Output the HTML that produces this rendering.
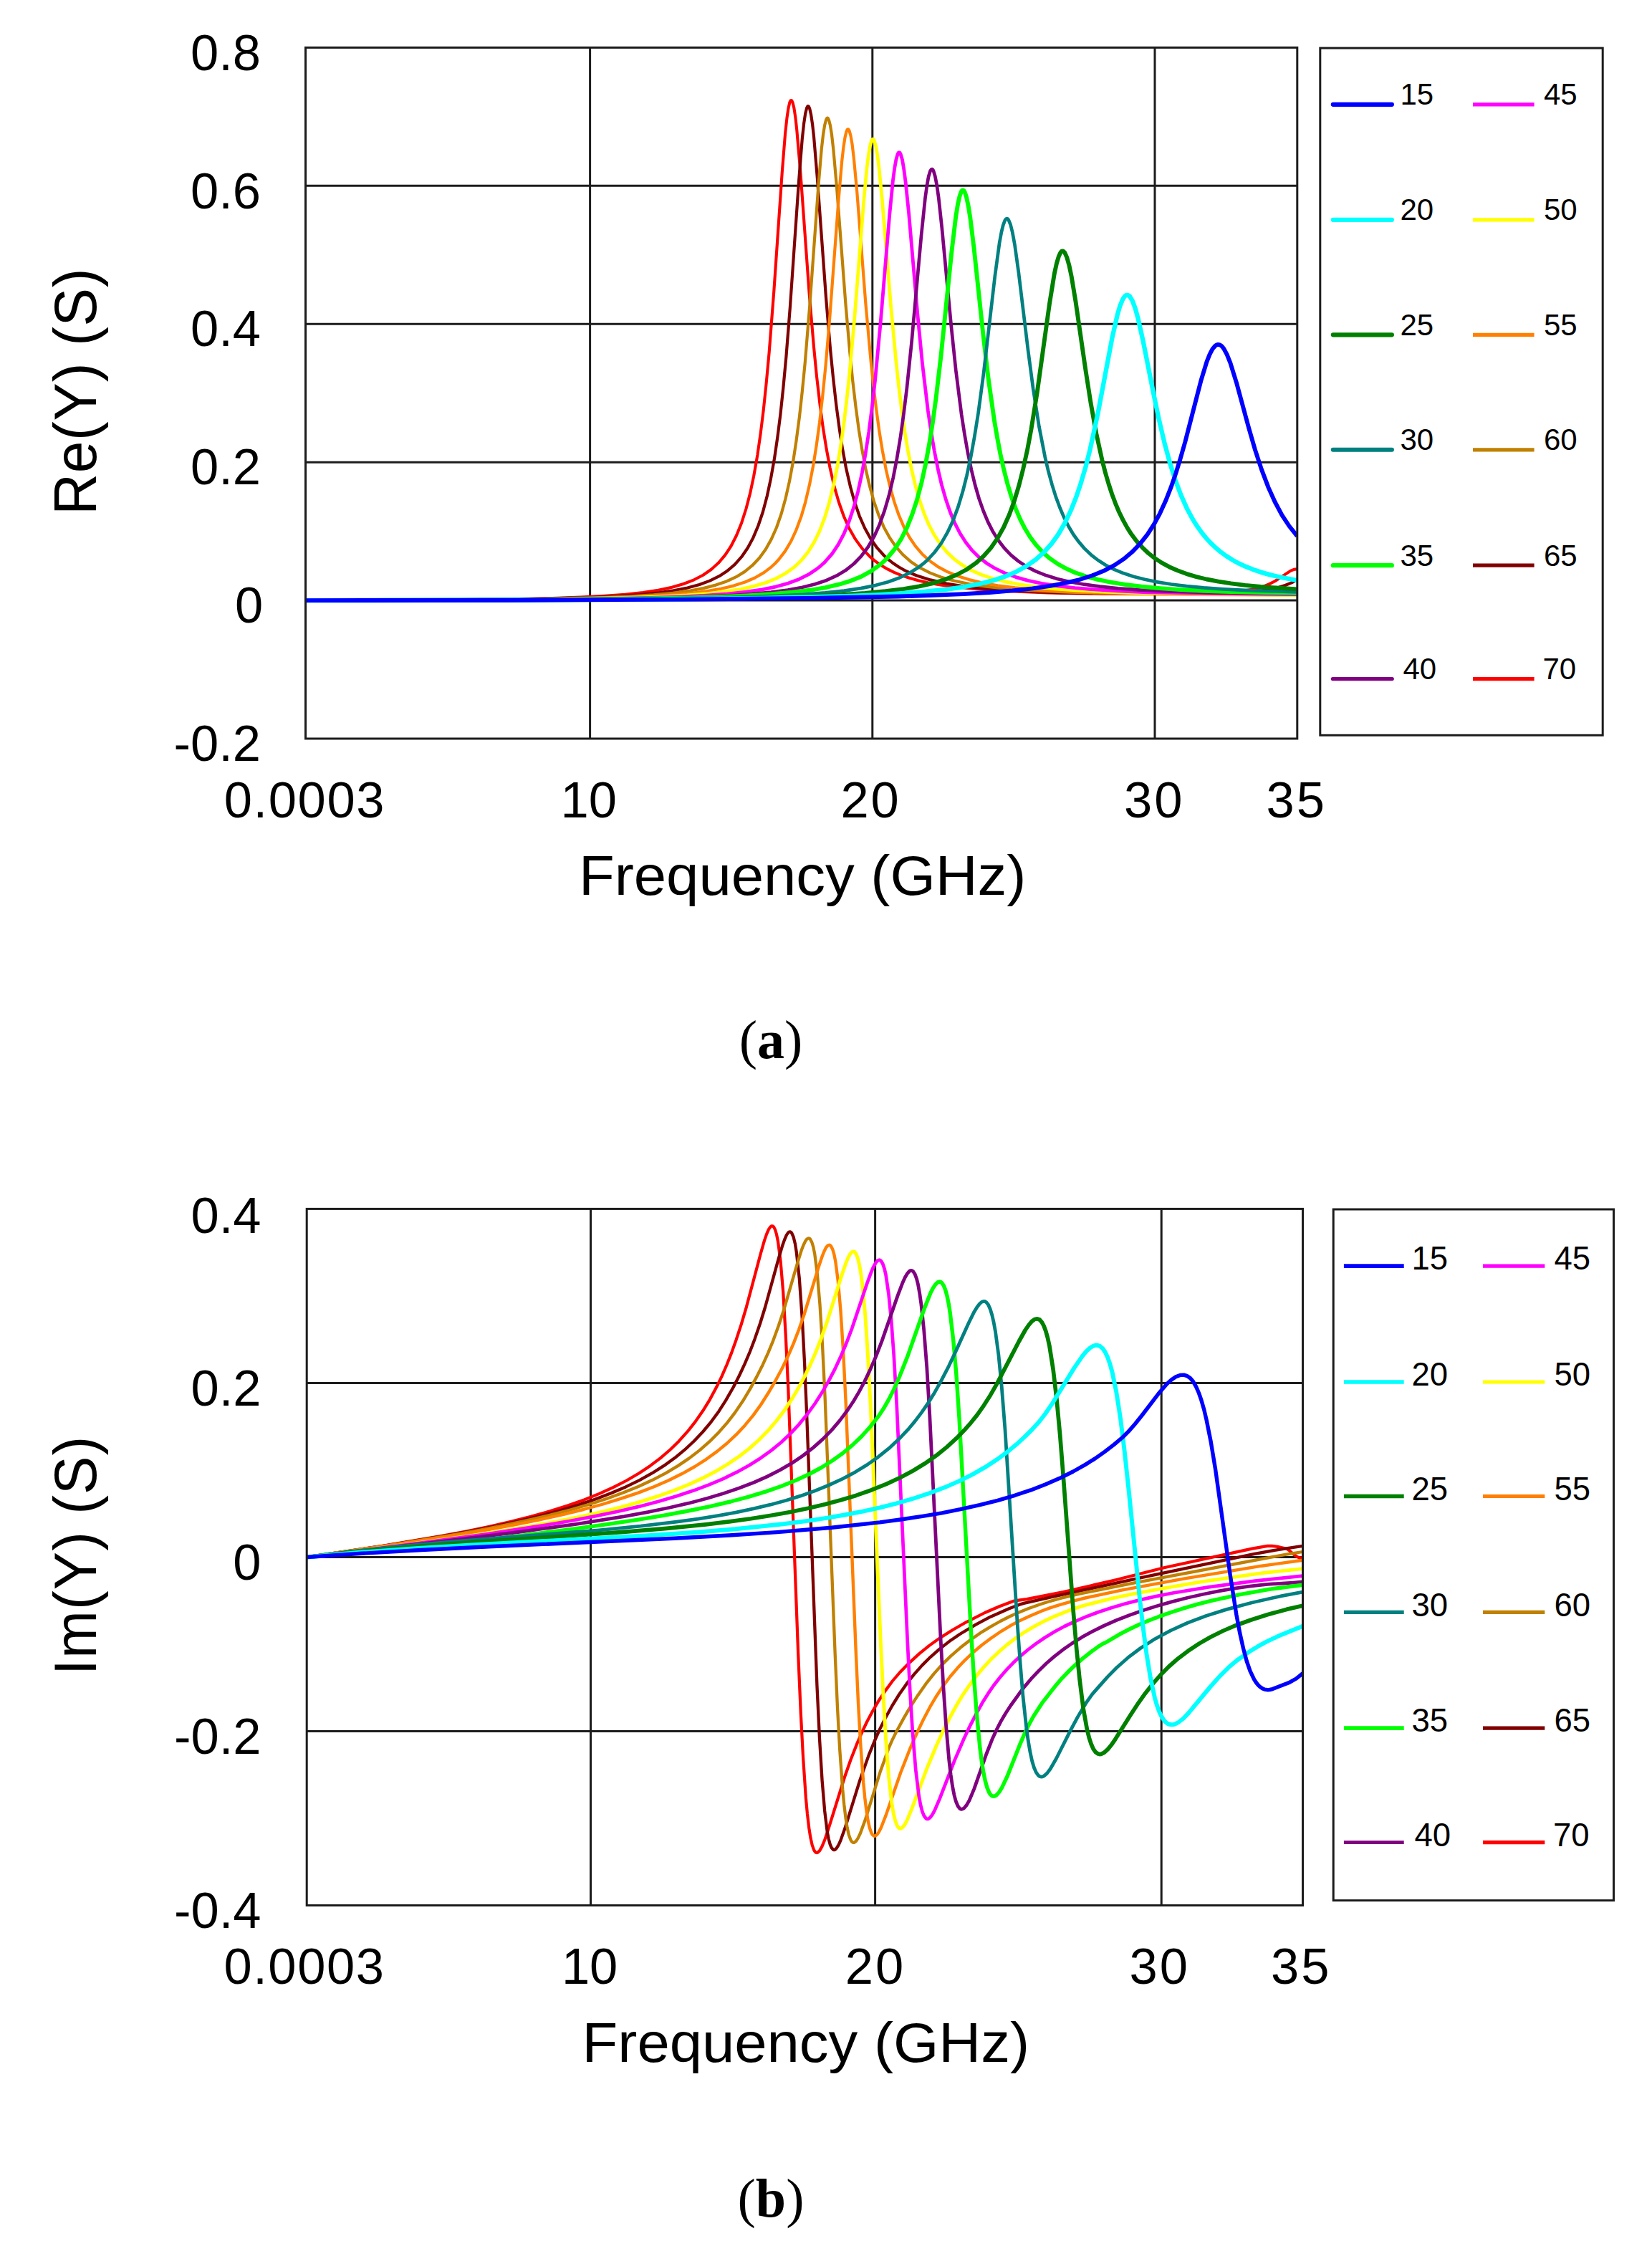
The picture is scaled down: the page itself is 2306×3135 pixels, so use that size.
<!DOCTYPE html>
<html><head><meta charset="utf-8"><title>Figure</title>
<style>html,body{margin:0;padding:0;background:#fff}svg{display:block}</style></head>
<body>
<svg width="2306" height="3135" viewBox="0 0 2306 3135">
<defs>
<clipPath id="c1"><rect x="426.5" y="63.400000000000006" width="1384.3" height="970.6"/></clipPath>
<clipPath id="c2"><rect x="428.2" y="1684.4" width="1390.3" height="978.1999999999998"/></clipPath>
</defs>
<g stroke="#1c1c1c" stroke-width="3"><line x1="823.6" y1="66.4" x2="823.6" y2="1031.0"/><line x1="1217.8" y1="66.4" x2="1217.8" y2="1031.0"/><line x1="1612.0" y1="66.4" x2="1612.0" y2="1031.0"/><line x1="426.5" y1="259.3" x2="1810.8" y2="259.3"/><line x1="426.5" y1="452.2" x2="1810.8" y2="452.2"/><line x1="426.5" y1="645.2" x2="1810.8" y2="645.2"/><line x1="426.5" y1="838.1" x2="1810.8" y2="838.1"/></g>
<g clip-path="url(#c1)" fill="none" stroke-width="5.2" stroke-linejoin="round">
<path stroke="#ff0000" stroke-width="4.1" d="M426.5,838.1 598.2,837.5 723.9,836.1 771.0,835.0 810.6,833.6 844.2,831.8 872.6,829.7 897.6,827.0 918.9,823.7 937.9,819.7 954.1,815.0 968.8,809.3 981.4,802.7 992.9,794.7 1002.8,785.8 1012.3,774.6 1020.6,762.0 1028.1,747.3 1035.2,729.7 1041.5,710.0 1047.1,688.6 1052.2,664.3 1057.4,634.8 1061.7,604.7 1065.7,572.6 1069.6,535.4 1073.6,492.5 1080.3,406.5 1091.8,239.8 1096.1,186.4 1098.5,164.4 1100.5,151.0 1102.4,142.7 1103.6,140.4 1104.4,140.0 1105.2,140.4 1106.4,142.8 1108.4,151.0 1110.4,164.2 1112.3,181.7 1117.5,242.2 1129.7,410.6 1136.1,485.5 1140.0,525.4 1144.4,563.4 1148.7,595.9 1153.5,626.0 1158.6,653.1 1164.5,678.9 1170.9,701.0 1178.0,721.0 1185.5,737.7 1194.2,752.9 1203.7,765.9 1214.0,776.7 1221.5,783.1 1229.8,789.0 1238.5,794.2 1248.0,798.9 1258.3,803.1 1269.3,806.8 1281.6,810.2 1295.1,813.2 1309.7,815.9 1325.5,818.3 1362.7,822.2 1407.8,825.2 1462.8,827.4 1542.2,828.9 1626.5,829.2 1685.4,828.3 1706.8,827.3 1724.6,826.0 1736.8,824.5 1747.5,822.8 1757.0,820.5 1765.3,817.9 1772.4,814.9 1779.6,811.2 1801.3,796.9 1806.1,794.9 1810.8,794.2"/>
<path stroke="#800000" stroke-width="4.2" d="M426.5,838.0 606.9,837.6 738.2,836.2 828.4,833.8 863.2,832.1 892.4,830.0 918.1,827.5 940.3,824.3 959.7,820.5 976.3,816.0 990.9,810.6 1004.0,804.2 1015.4,796.7 1025.7,787.8 1035.2,777.2 1043.9,764.5 1051.4,750.4 1058.5,733.5 1064.9,714.5 1070.8,692.2 1075.9,668.4 1081.1,639.4 1085.4,609.9 1089.4,578.3 1093.3,541.5 1097.3,499.0 1102.8,429.8 1115.1,252.5 1119.8,193.7 1122.2,171.7 1124.2,158.5 1126.2,150.5 1127.4,148.3 1128.1,148.1 1128.9,148.7 1130.1,151.3 1132.1,160.0 1134.1,173.6 1136.1,191.6 1140.8,247.9 1153.1,416.5 1159.0,487.0 1163.0,527.3 1167.3,565.6 1171.7,598.4 1176.0,626.2 1181.1,653.8 1187.1,679.8 1193.0,700.9 1199.7,720.3 1207.3,737.5 1215.2,751.8 1224.3,764.7 1234.5,776.0 1240.9,781.7 1247.6,786.8 1254.7,791.5 1262.2,795.8 1270.5,799.7 1279.2,803.3 1298.6,809.4 1321.2,814.5 1347.7,818.7 1378.9,822.0 1415.7,824.6 1480.2,827.3 1560.0,828.8 1647.8,829.0 1713.1,827.7 1748.7,825.5 1762.5,824.0 1774.8,822.0 1785.1,819.8 1794.6,816.8 1802.9,813.4 1810.8,809.2"/>
<path stroke="#c08000" stroke-width="4.2" d="M426.5,838.0 614.4,837.6 751.6,836.2 845.4,833.9 881.3,832.3 912.2,830.3 939.1,827.8 962.0,824.7 981.8,821.1 999.2,816.6 1014.2,811.4 1027.7,805.2 1039.6,797.9 1050.2,789.2 1060.1,778.7 1068.8,766.7 1076.7,752.6 1083.9,736.5 1090.6,717.3 1096.5,696.0 1102.0,671.6 1107.2,643.7 1111.5,615.4 1115.9,582.0 1119.8,546.6 1123.8,505.8 1130.5,423.9 1142.4,259.3 1146.7,208.6 1149.1,187.6 1151.1,175.0 1153.1,167.2 1154.3,165.0 1155.0,164.6 1155.8,165.1 1157.0,167.4 1159.0,175.3 1161.0,187.9 1163.3,208.4 1168.1,262.5 1180.4,424.0 1186.3,492.0 1190.2,531.0 1194.6,568.3 1198.9,600.3 1203.3,627.5 1208.4,654.6 1214.0,678.7 1219.9,699.9 1226.6,719.2 1233.7,735.7 1241.7,750.3 1250.4,762.9 1260.2,774.2 1271.3,783.9 1284.0,792.4 1298.2,799.6 1314.0,805.7 1332.2,810.8 1352.8,815.1 1376.5,818.7 1404.2,821.6 1444.2,824.5 1492.0,826.6 1549.8,828.1 1616.2,828.9 1684.2,828.9 1740.0,828.1 1780.7,826.5 1810.8,824.0"/>
<path stroke="#ff8000" stroke-width="4.2" d="M426.5,838.1 623.1,837.6 767.0,836.3 865.1,834.1 902.7,832.6 934.3,830.7 962.0,828.3 985.8,825.4 1006.3,821.8 1024.1,817.6 1039.9,812.5 1053.8,806.5 1066.1,799.4 1076.7,791.3 1081.9,786.5 1087.0,781.0 1096.1,769.1 1104.0,755.8 1111.5,739.6 1118.3,721.3 1124.2,701.1 1130.1,676.0 1135.3,649.2 1139.6,622.1 1144.0,590.1 1148.3,552.5 1152.3,512.9 1158.2,443.7 1170.5,279.3 1175.2,224.8 1177.6,204.1 1179.6,191.4 1181.5,183.4 1182.7,181.0 1183.5,180.4 1184.3,180.6 1185.5,182.4 1187.5,189.5 1189.5,201.1 1191.8,220.4 1196.2,267.1 1208.4,423.8 1215.2,499.4 1219.1,537.3 1223.1,570.6 1227.4,602.2 1231.8,629.1 1236.9,656.0 1242.5,679.9 1248.4,700.9 1254.7,719.2 1261.8,735.7 1269.3,749.7 1277.7,762.1 1287.1,773.2 1297.4,782.6 1308.9,790.8 1321.9,797.9 1336.6,804.0 1352.8,809.1 1371.4,813.6 1392.7,817.3 1416.9,820.4 1444.6,823.0 1476.2,825.1 1513.0,826.8 1555.7,828.1 1663.7,829.9 1810.8,830.5"/>
<path stroke="#ffff00" stroke-width="4.7" d="M426.5,838.1 632.2,837.6 783.3,836.4 886.1,834.2 925.6,832.7 958.9,830.8 987.7,828.5 1012.7,825.7 1034.4,822.2 1053.0,818.1 1069.2,813.2 1083.5,807.4 1096.1,800.5 1107.6,792.4 1113.1,787.5 1118.3,782.4 1127.8,770.7 1136.5,756.8 1144.0,741.4 1151.1,722.9 1157.4,702.3 1163.3,678.3 1168.5,652.8 1173.2,624.6 1177.6,594.1 1181.9,558.4 1185.9,521.0 1193.0,441.6 1205.7,280.9 1210.0,235.0 1212.4,215.9 1214.4,204.3 1216.3,196.9 1217.5,194.7 1218.3,194.1 1219.1,194.3 1220.3,196.1 1222.7,204.3 1224.7,215.8 1227.0,234.5 1231.4,278.9 1243.6,427.6 1250.8,504.1 1254.7,540.4 1258.7,572.4 1263.0,602.9 1267.4,629.1 1272.5,655.4 1277.7,677.3 1283.6,698.3 1289.9,716.6 1296.6,732.5 1304.2,746.8 1312.5,759.5 1321.6,770.5 1331.8,780.3 1342.9,788.5 1355.6,795.9 1369.4,802.0 1385.2,807.4 1403.0,811.9 1423.2,815.8 1446.1,819.1 1472.2,821.8 1501.9,824.0 1536.3,825.8 1575.9,827.3 1675.5,829.3 1810.8,830.1"/>
<path stroke="#ff00ff" stroke-width="4.8" d="M426.5,838.1 642.1,837.6 801.1,836.4 909.0,834.3 950.6,832.9 985.4,831.1 1015.4,828.9 1041.5,826.1 1064.1,822.8 1083.5,818.8 1100.5,814.1 1115.5,808.4 1128.5,801.9 1140.4,794.0 1145.9,789.6 1151.5,784.4 1161.4,773.1 1170.1,760.2 1178.0,745.2 1185.1,728.1 1191.8,707.8 1197.8,685.6 1203.3,660.2 1208.0,634.1 1212.8,603.0 1217.1,569.7 1221.5,531.2 1229.0,452.1 1241.7,300.0 1246.4,252.3 1248.8,234.3 1250.8,223.1 1253.1,214.9 1254.3,213.1 1255.1,212.8 1255.9,213.1 1257.1,214.9 1259.5,223.0 1261.8,236.6 1264.2,254.9 1268.6,297.6 1280.8,438.5 1287.5,507.4 1295.4,573.6 1299.8,603.4 1304.2,629.1 1309.3,654.9 1314.4,676.6 1320.0,696.2 1326.3,714.7 1333.0,730.7 1340.1,744.5 1348.1,757.0 1357.1,768.4 1367.0,778.2 1377.7,786.5 1389.6,793.7 1403.0,800.1 1418.1,805.6 1435.1,810.4 1454.0,814.3 1475.8,817.8 1500.3,820.6 1528.0,822.9 1559.7,824.9 1596.4,826.5 1687.8,828.6 1810.8,829.7"/>
<path stroke="#800080" stroke-width="4.7" d="M426.5,838.1 652.3,837.7 821.2,836.5 935.9,834.4 979.8,833.0 1017.0,831.3 1049.0,829.2 1076.3,826.6 1099.7,823.5 1120.2,819.7 1138.0,815.2 1153.9,809.9 1168.1,803.4 1180.4,796.1 1191.8,787.0 1202.1,776.4 1211.6,763.7 1219.9,749.4 1227.4,733.0 1234.5,713.4 1240.9,691.7 1246.8,666.7 1251.9,640.4 1256.7,611.7 1261.4,578.0 1265.8,542.4 1272.5,477.9 1286.0,328.9 1291.5,276.2 1293.9,259.0 1296.2,246.2 1298.6,238.5 1299.8,236.7 1301.0,236.2 1301.8,236.6 1303.0,238.4 1305.3,246.0 1307.7,258.4 1310.1,275.1 1314.8,317.9 1327.5,452.2 1334.2,516.3 1342.1,578.4 1346.5,606.6 1350.8,631.2 1356.0,656.0 1361.1,677.0 1366.6,696.0 1372.6,713.0 1378.9,728.1 1386.0,742.1 1393.9,754.7 1402.2,765.4 1411.3,774.9 1421.6,783.4 1433.1,790.9 1445.7,797.4 1460.0,803.1 1475.8,808.0 1493.6,812.2 1513.4,815.7 1535.5,818.7 1560.8,821.3 1589.7,823.4 1622.5,825.1 1703.2,827.6 1810.8,829.0"/>
<path stroke="#00ff00" stroke-width="5.9" d="M426.5,838.1 660.3,837.7 837.1,836.5 957.7,834.5 1004.0,833.1 1043.1,831.4 1076.7,829.3 1105.6,826.8 1130.5,823.8 1152.3,820.1 1171.3,815.7 1187.9,810.6 1202.9,804.4 1216.0,797.2 1228.2,788.4 1233.7,783.6 1239.3,778.0 1249.2,766.0 1257.9,752.4 1265.8,736.8 1273.3,718.2 1280.0,697.6 1286.4,673.7 1291.9,648.4 1297.0,620.6 1301.8,590.6 1306.5,556.1 1313.6,495.7 1328.3,352.3 1334.2,302.6 1337.0,285.3 1339.4,274.4 1341.7,267.7 1342.9,266.0 1344.1,265.4 1345.3,265.9 1346.5,267.6 1348.8,274.2 1351.6,287.0 1354.4,304.5 1359.5,346.0 1372.6,468.7 1379.7,529.0 1388.0,587.3 1392.0,610.6 1396.3,633.3 1401.1,654.8 1406.2,674.8 1411.7,693.2 1417.7,709.8 1424.0,724.7 1430.7,737.8 1438.2,750.0 1446.1,760.6 1455.2,770.5 1465.1,779.2 1475.8,786.7 1487.7,793.4 1500.7,799.2 1515.4,804.3 1532.0,808.9 1550.2,812.7 1570.3,815.9 1593.3,818.8 1619.0,821.1 1647.8,823.1 1681.1,824.8 1718.6,826.1 1810.8,827.9"/>
<path stroke="#008080" stroke-width="4.7" d="M426.5,838.1 673.3,837.7 862.8,836.5 992.9,834.6 1042.7,833.3 1084.6,831.7 1121.0,829.8 1151.9,827.4 1178.4,824.6 1201.7,821.1 1221.9,817.1 1239.7,812.2 1255.5,806.5 1269.3,799.9 1282.4,791.7 1288.3,787.2 1294.3,782.0 1304.5,771.0 1314.0,758.1 1322.3,743.7 1330.3,726.7 1337.4,707.6 1344.1,685.4 1349.6,663.5 1355.2,637.6 1360.3,609.4 1365.5,576.9 1373.0,521.2 1388.8,385.4 1395.1,339.1 1397.9,323.9 1400.3,314.1 1403.0,307.1 1404.2,305.6 1405.4,305.1 1406.6,305.5 1407.8,306.8 1410.5,313.3 1413.3,324.5 1416.5,341.9 1422.0,381.4 1435.1,489.2 1442.2,542.9 1450.5,595.8 1458.8,638.2 1463.5,658.2 1468.7,677.1 1473.8,693.4 1479.4,708.5 1485.3,722.3 1491.6,734.8 1498.3,746.0 1505.5,755.9 1513.8,765.6 1522.9,774.3 1532.8,782.0 1543.4,788.8 1555.3,794.9 1568.0,800.1 1582.2,804.7 1598.0,808.8 1615.4,812.4 1634.8,815.5 1656.2,818.1 1680.3,820.4 1707.2,822.3 1737.6,823.9 1810.8,826.3"/>
<path stroke="#008000" stroke-width="5.9" d="M426.5,838.1 687.2,837.7 892.0,836.5 1034.0,834.7 1134.5,832.0 1173.6,830.1 1207.3,827.9 1236.1,825.3 1261.4,822.1 1283.2,818.4 1302.6,814.0 1319.6,808.8 1335.0,802.5 1349.2,795.0 1361.9,786.2 1373.0,776.3 1383.3,764.6 1392.7,750.9 1401.1,735.8 1409.0,718.0 1416.1,698.4 1422.4,677.4 1428.3,654.1 1433.9,628.7 1439.4,599.5 1447.7,548.1 1465.1,423.2 1471.8,382.0 1475.0,367.4 1477.8,358.1 1480.5,352.3 1482.1,350.7 1483.3,350.4 1484.5,350.8 1486.1,352.3 1489.2,359.1 1492.4,370.4 1495.6,385.5 1501.5,421.1 1515.4,516.7 1522.5,562.1 1530.4,605.6 1538.3,641.7 1542.6,658.6 1547.4,675.0 1552.1,689.5 1556.9,702.3 1562.0,714.5 1567.6,725.9 1573.5,736.6 1579.4,745.8 1586.5,755.3 1594.5,764.1 1602.8,772.0 1611.9,779.1 1621.4,785.4 1632.0,791.2 1643.5,796.3 1655.8,800.8 1669.2,804.8 1684.2,808.5 1700.5,811.6 1718.3,814.4 1738.0,816.9 1759.8,819.0 1810.8,822.4"/>
<path stroke="#00ffff" stroke-width="6.3" d="M426.5,838.1 696.6,837.7 914.2,836.5 1068.4,834.7 1179.2,832.1 1222.3,830.3 1259.5,828.2 1291.9,825.7 1320.0,822.8 1344.5,819.3 1366.2,815.2 1385.6,810.4 1402.6,804.8 1418.5,798.1 1432.7,790.3 1445.7,781.1 1457.2,770.8 1467.9,758.8 1477.4,745.6 1486.5,729.9 1494.8,712.5 1501.9,694.7 1508.6,674.9 1515.4,651.9 1521.7,627.0 1532.8,575.7 1552.5,471.3 1559.7,439.7 1563.2,427.6 1566.8,418.6 1568.7,415.2 1570.3,413.3 1571.9,412.1 1573.5,411.8 1575.1,412.2 1577.1,413.8 1580.6,419.7 1584.6,430.1 1588.5,444.2 1595.6,475.8 1610.3,549.8 1617.8,585.6 1625.7,619.1 1633.2,646.7 1640.7,670.3 1648.6,691.4 1656.9,709.9 1665.6,725.9 1671.2,734.7 1677.1,743.0 1683.4,750.8 1690.2,758.1 1696.9,764.5 1704.4,770.8 1712.3,776.5 1720.6,781.7 1729.3,786.4 1738.8,790.8 1749.1,794.9 1759.8,798.6 1771.2,801.9 1783.5,804.9 1810.8,810.2"/>
<path stroke="#0000ff" stroke-width="5.9" d="M426.5,838.1 713.3,837.7 953.3,836.6 1127.8,834.9 1254.3,832.5 1303.0,830.9 1344.9,829.1 1381.3,827.0 1413.3,824.4 1441.4,821.4 1465.9,817.8 1487.7,813.7 1507.0,809.0 1524.8,803.3 1540.7,796.8 1555.3,789.1 1568.4,780.4 1580.2,770.6 1591.3,759.1 1601.6,746.1 1611.1,731.4 1619.0,716.8 1626.9,699.6 1634.4,680.7 1641.5,660.1 1647.8,639.6 1654.2,617.2 1676.7,530.3 1684.6,504.6 1688.6,494.7 1692.5,487.2 1696.5,482.5 1698.5,481.3 1700.1,480.9 1702.0,481.1 1704.0,482.1 1706.0,483.8 1708.4,486.9 1712.7,494.9 1717.5,506.9 1725.8,533.6 1743.2,597.6 1751.9,627.6 1761.0,655.4 1770.5,680.4 1779.6,700.5 1789.4,718.8 1799.7,734.5 1810.8,748.3"/>
</g>
<rect x="426.5" y="66.4" width="1384.3" height="964.6" fill="none" stroke="#1c1c1c" stroke-width="3"/>
<g font-family="Liberation Sans, Arial, sans-serif" font-size="70.5" fill="#000">
<text x="364" y="97.6" text-anchor="end">0.8</text>
<text x="364" y="290.5" text-anchor="end">0.6</text>
<text x="364" y="483.4" text-anchor="end">0.4</text>
<text x="364" y="676.4" text-anchor="end">0.2</text>
<text x="367.3" y="869.3" text-anchor="end">0</text>
<text x="364" y="1062.2" text-anchor="end">-0.2</text>
<text x="425.4" y="1140.6" text-anchor="middle" letter-spacing="1.6">0.0003</text>
<text x="821.7" y="1140.6" text-anchor="middle">10</text>
<text x="1215.6" y="1140.6" text-anchor="middle" letter-spacing="3">20</text>
<text x="1611.3" y="1140.6" text-anchor="middle" letter-spacing="3">30</text>
<text x="1809.7" y="1140.6" text-anchor="middle" letter-spacing="3">35</text>
</g>
<text font-family="Liberation Sans, Arial, sans-serif" font-size="80" transform="translate(1120.2,1249.0) scale(1.018,0.962)" text-anchor="middle">Frequency (GHz)</text>
<text font-family="Liberation Sans, Arial, sans-serif" font-size="80" transform="translate(133.5,546.3) rotate(-90) scale(1,1.035)" text-anchor="middle" letter-spacing="0.8">Re(Y) (S)</text>
<text font-family="Liberation Serif, Times New Roman, serif" font-size="76" x="1076" y="1477" text-anchor="middle">(<tspan font-weight="bold">a</tspan>)</text>
<rect x="1842.8" y="67.1" width="394.4" height="959.2" fill="#fff" stroke="#1c1c1c" stroke-width="3"/>
<g>
<line x1="1860.9" x2="1942.8" y1="145.8" y2="145.8" stroke="#0000ff" stroke-width="6.3" stroke-linecap="round"/>
<line x1="1860.9" x2="1942.8" y1="306.8" y2="306.8" stroke="#00ffff" stroke-width="6.3" stroke-linecap="round"/>
<line x1="1860.9" x2="1942.8" y1="467.3" y2="467.3" stroke="#008000" stroke-width="6.3" stroke-linecap="round"/>
<line x1="1860.7" x2="1943.0" y1="627.8" y2="627.8" stroke="#008080" stroke-width="5.9" stroke-linecap="round"/>
<line x1="1860.9" x2="1942.8" y1="789.2" y2="789.2" stroke="#00ff00" stroke-width="6.3" stroke-linecap="round"/>
<line x1="1860.4" x2="1943.2" y1="947.6" y2="947.6" stroke="#800080" stroke-width="5.3" stroke-linecap="round"/>
<line x1="2056" x2="2141.6" y1="145.8" y2="145.8" stroke="#ff00ff" stroke-width="5.2"/>
<line x1="2056" x2="2141.6" y1="306.8" y2="306.8" stroke="#ffff00" stroke-width="5.2"/>
<line x1="2056" x2="2141.6" y1="467.3" y2="467.3" stroke="#ff8000" stroke-width="5.2"/>
<line x1="2056" x2="2141.6" y1="627.8" y2="627.8" stroke="#c08000" stroke-width="5.2"/>
<line x1="2056" x2="2141.6" y1="789.2" y2="789.2" stroke="#800000" stroke-width="5.2"/>
<line x1="2056" x2="2141.6" y1="947.6" y2="947.6" stroke="#ff0000" stroke-width="5.2"/>
</g>
<g font-family="Liberation Sans, Arial, sans-serif" font-size="42" fill="#000">
<text x="1954.5" y="146.1">15</text>
<text x="1954.5" y="307.1">20</text>
<text x="1954.5" y="467.6">25</text>
<text x="1954.5" y="628.1">30</text>
<text x="1954.5" y="789.5">35</text>
<text x="1958.5" y="947.9">40</text>
<text x="2155" y="146.1">45</text>
<text x="2155" y="307.1">50</text>
<text x="2155" y="467.6">55</text>
<text x="2155" y="628.1">60</text>
<text x="2155" y="789.5">65</text>
<text x="2153.5" y="947.9">70</text>
</g>
<g stroke="#1c1c1c" stroke-width="3"><line x1="824.5" y1="1687.4" x2="824.5" y2="2659.6"/><line x1="1221.6" y1="1687.4" x2="1221.6" y2="2659.6"/><line x1="1621.2" y1="1687.4" x2="1621.2" y2="2659.6"/><line x1="428.2" y1="1930.5" x2="1818.5" y2="1930.5"/><line x1="428.2" y1="2173.5" x2="1818.5" y2="2173.5"/><line x1="428.2" y1="2416.6" x2="1818.5" y2="2416.6"/></g>
<g clip-path="url(#c2)" fill="none" stroke-width="5.2" stroke-linejoin="round">
<path stroke="#ff0000" stroke-width="4.2" d="M428.2,2173.5 535.5,2157.5 615.3,2144.1 650.7,2137.5 683.2,2130.7 713.4,2123.8 741.2,2116.8 767.8,2109.3 792.5,2101.6 815.5,2093.4 836.6,2084.9 856.4,2075.9 874.7,2066.5 891.8,2056.5 907.7,2045.9 922.0,2035.1 935.5,2023.5 947.8,2011.4 959.7,1998.2 970.8,1984.1 981.1,1969.3 991.1,1953.1 1000.2,1936.1 1007.4,1921.3 1014.5,1905.0 1021.3,1887.9 1027.6,1870.2 1034.8,1848.4 1041.9,1824.3 1061.8,1749.8 1066.9,1731.9 1070.1,1722.6 1072.9,1716.2 1075.3,1712.6 1076.5,1711.6 1077.7,1711.2 1078.9,1711.5 1080.1,1712.6 1082.0,1716.4 1084.0,1723.0 1086.0,1733.0 1089.6,1760.8 1093.2,1803.5 1096.7,1862.8 1100.3,1938.6 1114.2,2308.9 1117.8,2391.4 1121.0,2452.0 1124.9,2509.7 1126.9,2531.4 1129.3,2551.8 1131.3,2564.5 1133.7,2575.4 1136.1,2582.1 1137.3,2584.1 1138.8,2585.7 1140.0,2586.1 1141.2,2585.8 1144.0,2583.4 1147.2,2577.9 1150.8,2569.3 1156.7,2551.8 1179.0,2480.5 1187.3,2456.7 1196.0,2434.4 1203.2,2418.0 1210.3,2403.0 1217.9,2388.7 1226.2,2374.5 1235.8,2359.9 1245.7,2346.5 1256.4,2334.0 1267.9,2322.2 1283.0,2308.4 1296.9,2297.1 1311.6,2286.6 1329.5,2275.2 1348.6,2264.3 1374.8,2251.0 1395.1,2242.2 1414.9,2234.8 1420.1,2233.8 1433.2,2232.1 1484.4,2222.1 1557.5,2205.3 1624.7,2188.3 1747.8,2161.6 1769.2,2157.9 1775.6,2157.8 1783.1,2158.8 1795.9,2161.8 1799.4,2164.0 1807.4,2170.8 1811.0,2173.3 1814.5,2174.5 1818.5,2174.2"/>
<path stroke="#800000" stroke-width="4.3" d="M428.2,2173.5 538.6,2157.4 622.1,2143.7 659.0,2136.9 693.2,2130.0 724.5,2123.1 753.5,2116.1 781.3,2108.6 806.8,2100.9 830.6,2092.8 852.8,2084.3 873.5,2075.4 892.6,2066.1 910.4,2056.2 926.7,2045.9 941.8,2035.1 955.7,2023.7 968.8,2011.5 981.1,1998.5 992.7,1984.6 1003.4,1969.9 1013.3,1954.4 1023.7,1936.2 1032.0,1920.0 1039.5,1903.9 1046.7,1887.0 1053.4,1869.4 1061.0,1847.5 1068.1,1824.5 1087.2,1755.3 1092.4,1738.0 1095.2,1730.1 1097.9,1723.9 1100.3,1720.4 1101.5,1719.5 1102.7,1719.3 1103.9,1719.7 1105.1,1721.0 1107.5,1726.3 1109.9,1736.0 1111.8,1747.9 1115.8,1784.6 1119.8,1840.9 1123.0,1901.1 1126.1,1973.7 1140.4,2352.2 1144.0,2426.9 1147.6,2485.5 1151.2,2528.0 1154.7,2556.4 1156.7,2567.0 1158.7,2574.4 1160.7,2579.1 1163.1,2581.8 1164.3,2582.1 1165.5,2581.8 1167.8,2579.7 1170.6,2575.1 1173.4,2568.9 1180.2,2549.7 1200.4,2484.7 1212.7,2449.9 1220.3,2431.2 1228.2,2413.4 1236.6,2396.7 1245.3,2381.0 1255.2,2365.0 1265.6,2350.2 1275.9,2337.1 1287.0,2324.6 1298.9,2312.8 1311.6,2301.6 1325.1,2291.1 1339.8,2281.0 1362.1,2267.6 1382.7,2256.7 1408.6,2245.3 1422.5,2239.9 1429.2,2237.9 1474.5,2227.7 1594.1,2201.8 1750.2,2169.2 1785.5,2162.8 1818.5,2157.8"/>
<path stroke="#c08000" stroke-width="4.3" d="M428.2,2173.5 544.6,2156.6 631.2,2142.6 669.3,2135.8 704.7,2128.9 737.3,2121.9 767.4,2114.9 796.0,2107.5 822.7,2099.8 847.3,2091.8 869.9,2083.6 891.0,2075.0 910.8,2065.8 929.5,2056.1 946.6,2045.9 962.1,2035.4 976.8,2024.1 990.7,2011.9 1003.4,1999.2 1015.3,1985.6 1026.4,1971.1 1036.8,1955.8 1047.1,1938.6 1056.2,1921.9 1064.6,1905.2 1072.1,1888.6 1079.3,1871.1 1086.8,1850.5 1094.0,1828.8 1113.4,1762.0 1118.6,1745.6 1121.4,1738.2 1124.2,1732.4 1126.5,1729.3 1128.5,1728.3 1129.7,1728.5 1130.9,1729.5 1133.3,1734.0 1135.3,1740.7 1137.3,1750.7 1140.8,1778.1 1144.4,1819.7 1148.0,1877.0 1151.6,1950.0 1165.5,2304.6 1169.0,2383.7 1172.2,2441.9 1176.2,2497.5 1178.2,2518.4 1180.6,2538.2 1182.5,2550.5 1184.9,2561.2 1187.3,2567.8 1188.5,2569.9 1190.1,2571.5 1191.3,2571.9 1192.5,2571.8 1194.9,2570.0 1197.6,2565.9 1200.8,2559.3 1208.0,2539.4 1229.0,2472.2 1240.5,2440.2 1245.3,2429.1 1250.9,2417.8 1262.0,2397.4 1269.9,2383.9 1281.5,2365.9 1292.2,2350.7 1303.3,2336.6 1314.4,2324.1 1327.1,2311.6 1340.6,2299.8 1354.9,2288.8 1370.4,2278.1 1382.7,2270.6 1396.2,2263.0 1409.0,2256.5 1421.3,2250.9 1436.0,2245.0 1452.3,2239.2 1466.2,2234.8 1481.3,2230.7 1507.1,2224.7 1581.0,2209.9 1795.5,2169.6 1818.5,2166.0"/>
<path stroke="#ff8000" stroke-width="4.4" d="M428.2,2173.5 552.1,2156.0 642.7,2141.8 682.8,2134.9 719.4,2128.1 753.1,2121.3 784.5,2114.3 814.3,2107.0 841.7,2099.5 867.1,2091.7 891.0,2083.6 912.8,2075.2 933.5,2066.2 952.5,2056.8 970.0,2047.0 985.9,2036.8 1001.0,2025.9 1014.9,2014.5 1028.0,2002.2 1039.9,1989.4 1051.5,1975.4 1062.2,1960.5 1072.5,1944.3 1082.4,1927.3 1091.6,1910.2 1099.9,1893.0 1107.5,1875.6 1115.0,1856.2 1122.6,1834.5 1142.4,1769.3 1147.6,1753.7 1150.4,1746.7 1153.1,1741.3 1155.5,1738.5 1157.5,1737.8 1158.7,1738.2 1159.9,1739.3 1162.3,1744.0 1164.3,1750.9 1166.3,1760.9 1169.8,1788.0 1173.4,1828.9 1177.0,1884.9 1180.6,1955.9 1194.5,2299.9 1198.0,2376.8 1201.2,2433.6 1205.2,2488.2 1207.2,2508.9 1209.6,2528.4 1211.5,2540.8 1213.9,2551.4 1216.3,2558.2 1217.5,2560.4 1219.1,2562.1 1220.3,2562.7 1221.5,2562.7 1223.9,2561.2 1226.6,2557.5 1229.8,2551.2 1236.6,2533.9 1257.2,2474.3 1270.7,2439.9 1279.9,2419.0 1289.0,2400.0 1298.1,2382.7 1307.3,2367.2 1316.4,2353.5 1326.3,2340.3 1336.7,2328.1 1347.4,2316.8 1358.9,2306.0 1370.8,2296.0 1383.5,2286.5 1397.8,2276.8 1410.2,2269.3 1421.7,2263.1 1438.0,2255.5 1455.0,2248.3 1466.2,2244.1 1478.9,2240.1 1498.3,2234.6 1514.6,2230.5 1566.7,2219.3 1653.7,2203.3 1761.3,2185.7 1818.5,2177.8"/>
<path stroke="#ffff00" stroke-width="4.9" d="M428.2,2173.5 563.7,2156.5 658.6,2143.4 700.7,2137.0 738.8,2130.6 774.2,2124.2 806.8,2117.7 837.8,2110.9 866.4,2103.8 893.0,2096.4 917.6,2088.7 940.6,2080.5 961.7,2072.0 981.1,2063.1 999.4,2053.5 1016.1,2043.5 1031.6,2033.0 1045.9,2021.9 1059.4,2009.8 1071.7,1997.3 1083.6,1983.5 1094.8,1968.8 1105.1,1953.2 1114.2,1937.9 1122.6,1922.4 1130.5,1906.1 1138.1,1889.0 1146.0,1868.9 1153.9,1846.7 1175.0,1779.9 1180.6,1763.6 1183.7,1755.9 1186.5,1750.7 1188.9,1747.8 1191.3,1746.8 1192.5,1747.1 1193.7,1748.2 1196.0,1752.4 1198.0,1758.6 1200.0,1767.6 1202.0,1779.7 1204.0,1795.4 1207.6,1833.7 1211.1,1885.8 1215.1,1959.7 1229.4,2294.2 1233.0,2367.3 1236.6,2427.9 1240.5,2479.3 1244.9,2517.6 1247.3,2531.6 1249.7,2541.5 1252.1,2547.9 1253.2,2549.9 1254.8,2551.6 1256.0,2552.2 1257.2,2552.3 1260.0,2550.6 1262.8,2547.0 1266.0,2541.1 1272.7,2524.9 1293.8,2468.5 1307.3,2436.3 1316.8,2415.6 1325.9,2397.3 1335.1,2380.5 1343.8,2366.1 1352.6,2353.1 1362.5,2339.8 1372.4,2327.9 1382.3,2317.1 1393.9,2305.9 1405.4,2296.0 1416.9,2287.1 1428.8,2279.0 1442.3,2270.8 1455.4,2263.8 1470.9,2256.5 1487.6,2249.7 1500.7,2244.8 1514.2,2240.6 1552.8,2230.8 1579.8,2225.1 1624.3,2216.8 1678.3,2207.7 1762.1,2195.6 1818.5,2189.6"/>
<path stroke="#ff00ff" stroke-width="4.7" d="M428.2,2173.5 580.0,2154.7 677.7,2141.6 760.7,2128.9 796.8,2122.7 830.2,2116.4 862.4,2109.7 891.8,2102.9 919.2,2095.7 944.6,2088.3 968.0,2080.6 989.9,2072.4 1010.1,2063.8 1028.8,2054.7 1045.9,2045.2 1061.8,2035.2 1076.5,2024.6 1090.4,2013.2 1103.5,2000.9 1115.4,1988.1 1126.9,1974.0 1137.7,1959.0 1147.2,1944.1 1156.3,1928.4 1164.7,1912.4 1172.6,1895.6 1181.0,1876.0 1189.3,1854.1 1210.7,1790.3 1216.3,1775.1 1219.5,1767.8 1222.3,1762.8 1225.0,1759.6 1227.4,1758.7 1228.6,1759.0 1229.8,1760.0 1232.2,1763.9 1234.6,1771.0 1236.6,1779.8 1240.5,1806.4 1244.1,1842.5 1247.7,1891.3 1251.7,1960.4 1266.8,2292.3 1270.3,2360.9 1273.9,2418.0 1278.3,2470.8 1282.6,2506.2 1285.0,2519.3 1287.4,2528.5 1289.8,2534.5 1292.6,2538.2 1293.8,2538.8 1295.4,2538.9 1298.1,2537.2 1301.3,2533.1 1304.5,2527.4 1311.6,2510.9 1332.7,2456.6 1345.4,2427.2 1354.1,2408.8 1362.9,2391.8 1371.2,2376.8 1379.6,2363.4 1387.1,2352.5 1395.9,2341.3 1405.0,2330.7 1414.5,2320.8 1424.5,2311.5 1435.2,2302.5 1446.3,2294.1 1458.2,2286.0 1472.1,2277.5 1486.0,2270.0 1500.7,2263.1 1516.6,2256.4 1533.7,2250.0 1552.0,2243.9 1570.6,2238.5 1590.5,2233.4 1612.7,2228.4 1635.8,2223.8 1686.6,2215.4 1752.2,2206.6 1818.5,2199.7"/>
<path stroke="#800080" stroke-width="4.8" d="M428.2,2173.5 638.7,2148.9 723.4,2138.5 804.4,2127.4 871.5,2116.7 904.1,2110.7 933.9,2104.5 961.3,2098.2 986.7,2091.5 1010.1,2084.5 1032.0,2077.1 1052.3,2069.3 1070.9,2061.0 1088.8,2051.9 1105.1,2042.4 1120.6,2032.0 1134.9,2020.9 1148.4,2008.9 1160.7,1996.4 1172.2,1982.9 1183.3,1968.0 1191.3,1956.0 1199.2,1942.6 1206.8,1928.4 1214.3,1912.6 1222.7,1893.3 1231.0,1871.9 1253.2,1808.1 1259.6,1791.3 1263.2,1783.3 1266.4,1777.8 1269.1,1774.6 1270.7,1773.6 1271.9,1773.4 1273.5,1773.8 1274.7,1774.7 1277.1,1778.4 1279.5,1784.9 1281.5,1792.8 1283.8,1805.8 1285.8,1819.8 1289.8,1857.5 1293.8,1909.1 1297.7,1974.4 1313.2,2290.2 1316.8,2353.5 1320.4,2406.5 1324.7,2456.3 1327.1,2476.8 1329.5,2493.0 1331.9,2505.3 1334.3,2514.3 1337.1,2521.0 1339.8,2524.5 1341.0,2525.1 1342.6,2525.3 1344.2,2524.8 1345.8,2523.7 1349.4,2519.4 1353.0,2513.1 1359.7,2497.1 1376.8,2448.5 1385.5,2426.4 1391.1,2414.4 1397.0,2402.9 1403.4,2392.0 1410.5,2381.0 1422.5,2364.3 1430.0,2354.4 1439.5,2343.2 1449.5,2332.6 1460.6,2321.8 1471.7,2312.1 1483.6,2302.8 1496.4,2293.9 1510.3,2285.2 1525.0,2277.1 1540.4,2269.5 1557.9,2261.8 1576.6,2254.4 1595.7,2247.7 1614.7,2241.7 1636.2,2235.6 1658.4,2230.0 1680.7,2225.0 1702.5,2220.6 1723.2,2217.1 1744.2,2214.2 1769.2,2211.4 1805.4,2209.1 1818.5,2207.8"/>
<path stroke="#00ff00" stroke-width="5.4" d="M428.2,2173.5 550.2,2162.6 675.3,2149.5 735.3,2142.4 791.3,2135.4 842.1,2128.4 887.8,2121.6 925.9,2115.3 960.1,2109.0 991.5,2102.6 1019.7,2096.0 1045.5,2089.1 1069.3,2081.9 1091.2,2074.2 1111.4,2066.0 1129.7,2057.5 1146.4,2048.5 1161.9,2038.8 1176.6,2028.2 1190.1,2016.9 1202.8,2004.7 1214.7,1991.5 1225.8,1977.4 1233.4,1966.1 1240.5,1953.6 1247.7,1939.4 1255.2,1922.5 1266.8,1893.3 1290.2,1826.8 1298.9,1804.8 1302.5,1797.8 1305.7,1793.0 1308.9,1789.9 1311.6,1789.0 1313.2,1789.4 1314.4,1790.3 1317.2,1794.2 1319.6,1800.2 1322.0,1808.9 1324.4,1820.7 1326.3,1833.2 1330.7,1870.2 1334.7,1915.9 1339.0,1979.4 1355.3,2275.1 1359.3,2338.5 1363.3,2391.6 1368.0,2440.4 1370.4,2458.9 1372.8,2473.9 1375.2,2485.5 1378.0,2495.5 1380.8,2502.1 1382.3,2504.5 1383.9,2506.2 1385.5,2507.0 1387.1,2507.3 1388.7,2506.9 1390.7,2505.8 1394.7,2501.5 1398.6,2495.2 1405.8,2479.9 1423.3,2435.9 1432.0,2415.8 1437.2,2405.5 1442.7,2395.5 1454.6,2377.2 1474.1,2352.2 1482.4,2342.6 1490.8,2333.8 1500.7,2324.3 1511.4,2314.9 1522.2,2306.3 1532.1,2299.1 1540.0,2294.0 1542.8,2293.0 1564.3,2280.4 1576.6,2274.0 1589.3,2268.0 1604.0,2261.7 1619.1,2255.9 1636.2,2250.0 1653.7,2244.4 1671.9,2239.1 1690.6,2234.3 1729.5,2225.8 1771.6,2218.4 1818.5,2212.3"/>
<path stroke="#008080" stroke-width="4.8" d="M428.2,2173.5 492.2,2165.4 561.7,2158.1 637.2,2151.5 836.2,2135.8 894.2,2130.2 944.6,2124.2 974.4,2120.1 1002.2,2115.6 1028.0,2110.9 1052.6,2105.7 1075.7,2100.2 1097.5,2094.2 1117.8,2087.9 1137.3,2081.0 1157.5,2072.8 1176.2,2064.1 1193.7,2054.8 1210.3,2044.6 1225.8,2033.7 1240.5,2021.9 1254.4,2009.1 1267.2,1995.7 1277.1,1983.9 1286.6,1971.4 1295.4,1958.7 1303.7,1945.3 1314.0,1926.9 1324.4,1906.8 1334.3,1885.9 1352.2,1846.5 1359.3,1832.1 1363.7,1824.7 1367.3,1820.0 1370.4,1817.3 1373.6,1816.3 1375.2,1816.7 1376.8,1817.7 1379.6,1821.3 1382.3,1827.5 1384.7,1835.3 1387.1,1845.6 1389.5,1858.8 1393.9,1891.3 1398.2,1935.2 1403.0,1995.9 1420.1,2265.8 1424.1,2321.1 1428.0,2368.1 1432.8,2412.3 1435.2,2429.5 1438.0,2445.8 1440.7,2458.3 1443.5,2467.5 1446.3,2473.9 1449.5,2478.3 1451.1,2479.4 1453.1,2480.1 1455.0,2479.9 1457.0,2479.1 1461.4,2475.4 1466.2,2469.0 1474.5,2454.5 1494.0,2415.9 1504.3,2396.6 1515.4,2377.9 1524.6,2364.8 1546.0,2340.6 1558.7,2327.7 1574.6,2313.7 1592.1,2300.5 1612.3,2287.6 1634.2,2275.9 1657.6,2265.3 1683.4,2255.5 1711.6,2246.6 1747.4,2237.0 1789.1,2227.6 1818.5,2222.2"/>
<path stroke="#008000" stroke-width="5.7" d="M428.2,2173.5 496.1,2166.2 570.4,2159.5 651.5,2153.4 867.1,2138.7 930.7,2133.4 985.5,2127.8 1018.1,2123.9 1048.3,2119.8 1076.5,2115.3 1103.1,2110.5 1128.1,2105.3 1151.6,2099.8 1173.8,2093.8 1194.9,2087.4 1216.7,2079.7 1237.4,2071.4 1256.4,2062.5 1274.3,2053.0 1291.0,2042.8 1306.9,2031.7 1321.6,2019.9 1335.5,2007.2 1345.8,1996.6 1355.3,1985.8 1364.1,1974.9 1372.0,1963.7 1381.6,1948.8 1391.9,1930.9 1422.5,1872.0 1431.2,1856.5 1436.0,1849.5 1440.3,1844.4 1444.3,1841.5 1447.9,1840.8 1451.1,1842.0 1454.2,1845.4 1457.0,1850.5 1459.8,1858.0 1462.6,1868.1 1465.0,1879.2 1470.1,1911.5 1474.9,1952.2 1479.7,2003.2 1484.8,2067.9 1498.3,2250.0 1502.7,2301.2 1507.1,2344.7 1512.2,2385.1 1517.4,2414.0 1520.2,2425.3 1523.0,2434.0 1526.1,2441.1 1529.3,2445.6 1532.9,2448.1 1534.9,2448.6 1536.9,2448.4 1541.2,2446.4 1546.4,2441.6 1551.2,2435.8 1556.7,2427.8 1578.6,2393.0 1588.9,2377.3 1598.4,2363.9 1608.0,2351.7 1619.9,2338.0 1631.8,2326.0 1644.5,2314.9 1658.4,2304.4 1673.9,2294.1 1689.8,2285.0 1706.9,2276.5 1725.2,2268.7 1745.8,2261.2 1769.2,2253.8 1795.9,2246.4 1818.5,2241.2"/>
<path stroke="#00ffff" stroke-width="5.9" d="M428.2,2173.5 502.5,2166.8 583.9,2160.9 671.3,2155.7 901.3,2143.5 968.4,2139.0 1026.4,2134.3 1093.2,2127.3 1123.4,2123.4 1152.0,2119.1 1179.0,2114.5 1204.4,2109.6 1228.2,2104.3 1250.9,2098.6 1274.7,2091.7 1297.3,2084.3 1318.8,2076.1 1338.7,2067.4 1357.3,2058.1 1375.2,2047.9 1391.9,2037.1 1407.4,2025.6 1418.9,2016.1 1430.0,2005.9 1441.1,1994.8 1450.3,1984.7 1459.0,1973.5 1468.1,1960.2 1499.5,1909.4 1510.7,1893.1 1516.6,1885.9 1521.8,1881.2 1526.5,1878.5 1528.9,1877.8 1531.3,1877.7 1535.3,1878.9 1539.3,1882.3 1542.8,1887.5 1546.0,1894.3 1549.2,1903.2 1552.4,1914.6 1558.3,1943.2 1563.9,1978.9 1569.4,2023.1 1575.4,2078.1 1590.9,2230.9 1595.7,2272.3 1600.4,2308.2 1606.0,2342.4 1611.9,2369.7 1614.7,2379.5 1617.9,2388.5 1621.1,2395.4 1624.3,2400.5 1626.6,2403.3 1629.0,2405.3 1631.4,2406.6 1633.8,2407.2 1636.6,2407.3 1639.4,2406.8 1645.3,2403.8 1651.7,2398.7 1659.2,2390.9 1689.0,2355.0 1702.9,2339.4 1714.8,2327.6 1726.7,2317.5 1746.2,2303.9 1756.1,2297.9 1768.1,2291.4 1785.9,2283.0 1818.5,2269.7"/>
<path stroke="#0000ff" stroke-width="5.4" d="M428.2,2173.5 504.9,2168.3 588.3,2163.5 682.8,2158.8 941.0,2147.2 1018.1,2143.0 1084.8,2138.6 1161.1,2132.2 1228.2,2124.9 1258.8,2120.8 1287.8,2116.4 1314.8,2111.8 1340.6,2106.7 1367.6,2100.7 1392.7,2094.3 1416.5,2087.3 1438.8,2079.9 1459.8,2071.8 1479.3,2063.3 1497.9,2054.0 1515.4,2044.1 1528.9,2035.6 1542.0,2026.4 1554.7,2016.6 1566.7,2006.5 1575.4,1997.9 1584.5,1987.5 1594.1,1975.5 1617.1,1945.3 1629.0,1931.5 1635.4,1925.7 1641.3,1921.7 1647.3,1919.4 1652.5,1919.1 1657.2,1920.6 1661.6,1923.8 1665.6,1928.6 1669.5,1935.4 1673.5,1944.5 1677.1,1954.9 1680.7,1967.5 1684.2,1982.4 1690.2,2012.4 1696.6,2051.0 1717.2,2198.3 1725.9,2254.0 1730.7,2279.4 1735.5,2300.9 1740.2,2318.5 1745.0,2332.3 1750.6,2344.1 1753.4,2348.5 1756.1,2351.9 1758.9,2354.6 1762.1,2356.7 1765.3,2358.1 1768.8,2358.7 1772.4,2358.5 1776.4,2357.6 1799.0,2348.8 1809.4,2343.0 1818.5,2335.7"/>
</g>
<rect x="428.2" y="1687.4" width="1390.3" height="972.2" fill="none" stroke="#1c1c1c" stroke-width="3"/>
<g font-family="Liberation Sans, Arial, sans-serif" font-size="70.5" fill="#000">
<text x="364.5" y="1721.1" text-anchor="end">0.4</text>
<text x="364.5" y="1961.7" text-anchor="end">0.2</text>
<text x="364.5" y="2204.7" text-anchor="end">0</text>
<text x="364.5" y="2447.8" text-anchor="end">-0.2</text>
<text x="364.5" y="2690.8" text-anchor="end">-0.4</text>
<text x="425.0" y="2769.2" text-anchor="middle" letter-spacing="1.6">0.0003</text>
<text x="823.1" y="2769.2" text-anchor="middle">10</text>
<text x="1221.9" y="2769.2" text-anchor="middle" letter-spacing="3">20</text>
<text x="1618.8" y="2769.2" text-anchor="middle" letter-spacing="3">30</text>
<text x="1816.3" y="2769.2" text-anchor="middle" letter-spacing="3">35</text>
</g>
<text font-family="Liberation Sans, Arial, sans-serif" font-size="80" transform="translate(1124.8,2877.6) scale(1.018,0.962)" text-anchor="middle">Frequency (GHz)</text>
<text font-family="Liberation Sans, Arial, sans-serif" font-size="80" transform="translate(133.5,2171) rotate(-90) scale(1,1.035)" text-anchor="middle" letter-spacing="1.1">Im(Y) (S)</text>
<text font-family="Liberation Serif, Times New Roman, serif" font-size="76" x="1076" y="3094.3" text-anchor="middle">(<tspan font-weight="bold">b</tspan>)</text>
<rect x="1861.2" y="1688" width="391.3" height="964.7" fill="#fff" stroke="#1c1c1c" stroke-width="3"/>
<g>
<line x1="1875.9" x2="1959.7" y1="1767.2" y2="1767.2" stroke="#0000ff" stroke-width="5.7" stroke-linecap="butt"/>
<line x1="1875.9" x2="1959.7" y1="1929.0" y2="1929.0" stroke="#00ffff" stroke-width="5.7" stroke-linecap="butt"/>
<line x1="1875.9" x2="1959.7" y1="2088.5" y2="2088.5" stroke="#008000" stroke-width="5.7" stroke-linecap="butt"/>
<line x1="1875.9" x2="1959.7" y1="2250.3" y2="2250.3" stroke="#008080" stroke-width="5.3" stroke-linecap="butt"/>
<line x1="1875.9" x2="1959.7" y1="2412.2" y2="2412.2" stroke="#00ff00" stroke-width="5.7" stroke-linecap="butt"/>
<line x1="1875.9" x2="1959.7" y1="2571.6" y2="2571.6" stroke="#800080" stroke-width="4.8" stroke-linecap="butt"/>
<line x1="2070" x2="2156.3" y1="1767.2" y2="1767.2" stroke="#ff00ff" stroke-width="5.2"/>
<line x1="2070" x2="2156.3" y1="1929.0" y2="1929.0" stroke="#ffff00" stroke-width="5.2"/>
<line x1="2070" x2="2156.3" y1="2088.5" y2="2088.5" stroke="#ff8000" stroke-width="5.2"/>
<line x1="2070" x2="2156.3" y1="2250.3" y2="2250.3" stroke="#c08000" stroke-width="5.2"/>
<line x1="2070" x2="2156.3" y1="2412.2" y2="2412.2" stroke="#800000" stroke-width="5.2"/>
<line x1="2070" x2="2156.3" y1="2571.6" y2="2571.6" stroke="#ff0000" stroke-width="5.2"/>
</g>
<g font-family="Liberation Sans, Arial, sans-serif" font-size="45.5" fill="#000">
<text x="1970.5" y="1772.4">15</text>
<text x="1970.5" y="1934.2">20</text>
<text x="1970.5" y="2093.7">25</text>
<text x="1970.5" y="2255.5">30</text>
<text x="1970.5" y="2417.4">35</text>
<text x="1974.5" y="2576.8">40</text>
<text x="2169.5" y="1772.4">45</text>
<text x="2169.5" y="1934.2">50</text>
<text x="2169.5" y="2093.7">55</text>
<text x="2169.5" y="2255.5">60</text>
<text x="2169.5" y="2417.4">65</text>
<text x="2168.0" y="2576.8">70</text>
</g>
</svg>
</body></html>
